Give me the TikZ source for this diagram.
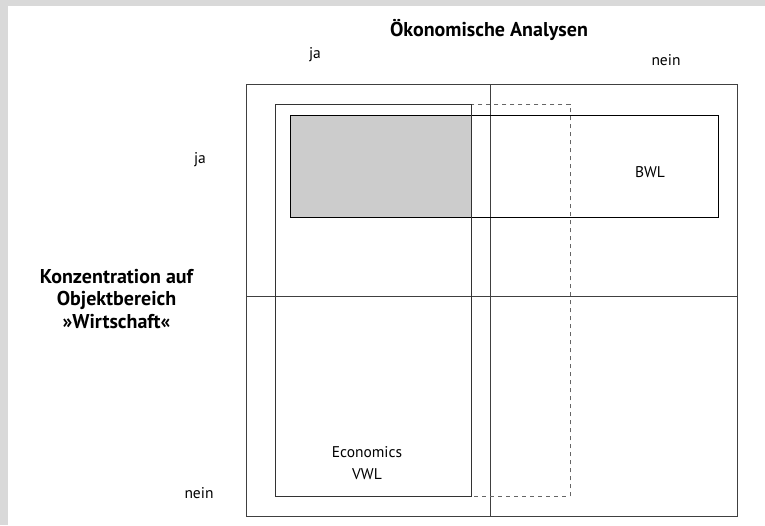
\documentclass[tikz,border=0pt]{standalone}
\usepackage{fontspec}
\setmainfont{PT Sans}
\definecolor{framegrey}{HTML}{D9D9D9}
\definecolor{fieldgrey}{HTML}{CCCCCC}
\tikzset{
  line/.style={draw=black!75, line width=1pt},
  label/.style={font=\fontsize{15.5}{22}\selectfont, inner sep=0pt},
  axis/.style={font=\fontsize{20}{22.5}\selectfont\bfseries, align=center, inner sep=0pt},
}
\begin{document}
\begin{tikzpicture}[x=1pt,y=-1pt]
  \useasboundingbox (0,0) rectangle (765,525);
  \fill[framegrey] (0,0) rectangle (765,525);
  \fill[white] (8.3,5.7) rectangle (765,525);

  % Felder
  \fill[fieldgrey] (290,115.3) rectangle (471.3,217.7);
  \draw[line] (246.7,84) rectangle (737.7,516.3);
  \draw[line] (490.7,84) -- (490.7,516.3);
  \draw[line] (246.7,296.7) -- (737.7,296.7);
  \draw[draw=black!60, line width=1pt, dash pattern=on 4pt off 4pt] (275,104) rectangle (570,496.7);
  \draw[draw=black, line width=1pt] (290,115.3) rectangle (718.3,217.7);
  \draw[draw=black!80, line width=1pt] (275,104) rectangle (471.3,496.7);

  % Beschriftungen
  \node[axis] (oekon) at (489,30) {Ökonomische Analysen};
  \node[label] (oja) at (315,55) {ja};
  \node[label] (onein) at (666,60) {nein};
  \node[label] (lja) at (200,160) {ja};
  \node[label] (lnein) at (199,493) {nein};
  \node[axis] (objekt) at (116.5,299) {Konzentration auf\\Objektbereich\\»Wirtschaft«};
  \node[label] (bwl) at (650,172) {BWL};
  \node[label, align=center] (vwl) at (367,463) {Economics\\VWL};
\end{tikzpicture}
\end{document}
